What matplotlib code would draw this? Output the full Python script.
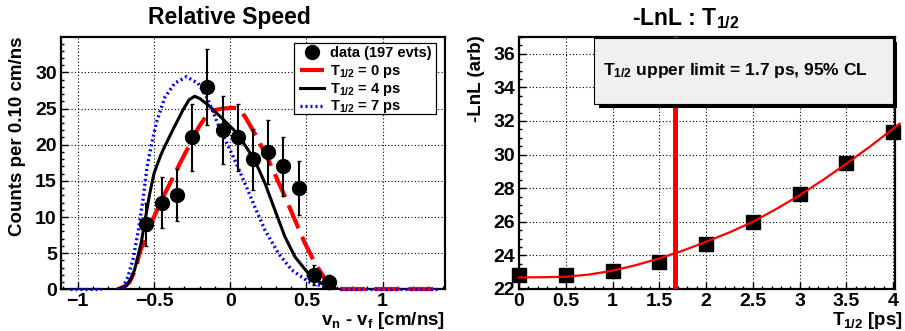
import numpy as np
import matplotlib
matplotlib.use("Agg")
import matplotlib.pyplot as plt
from matplotlib.patches import Rectangle
from matplotlib.lines import Line2D
from matplotlib.ticker import MultipleLocator

plt.rcParams['font.family'] = ['Liberation Sans', 'DejaVu Sans']
plt.rcParams['font.weight'] = 'bold'
plt.rcParams['mathtext.fontset'] = 'custom'
plt.rcParams['mathtext.rm'] = 'Liberation Sans:bold'
plt.rcParams['mathtext.bf'] = 'Liberation Sans:bold'
plt.rcParams['mathtext.it'] = 'Liberation Sans:bold'
plt.rcParams['mathtext.default'] = 'rm'

# ---- left panel: relative speed histogram ----
bin_x = [-0.55, -0.45, -0.35, -0.25, -0.15, -0.05, 0.05, 0.15, 0.25, 0.35, 0.45, 0.55, 0.65]
counts = [9, 12, 13, 21, 28, 22, 21, 18, 19, 17, 14, 2, 1]
count_err = [3.0, 3.5, 3.6, 4.6, 5.3, 4.7, 4.6, 4.2, 4.4, 4.1, 3.7, 1.4, 1.0]

t0_x = [-0.74, -0.70, -0.66, -0.62, -0.595, -0.55, -0.50, -0.44, -0.386, -0.33, -0.266, -0.21,
        -0.15, -0.10, -0.05, 0.03, 0.06, 0.10, 0.16, 0.23, 0.29, 0.36, 0.425, 0.49, 0.557, 0.62, 0.69, 0.72]
t0_y = [0, 0.3, 1.0, 2.8, 5.0, 7.5, 10.0, 12.8, 15.0, 17.4, 20.0, 22.3,
        24.2, 24.8, 25.0, 25.1, 24.9, 23.8, 21.6, 18.8, 16.1, 12.8, 9.6, 6.4, 3.6, 1.5, 0.4, 0.0]

t4_x = [-0.74, -0.70, -0.68, -0.65, -0.627, -0.60, -0.584, -0.562, -0.53, -0.50, -0.46, -0.44,
        -0.375, -0.31, -0.27, -0.233, -0.20, -0.145, -0.06, 0.05, 0.074, 0.16, 0.228, 0.293,
        0.359, 0.425, 0.513, 0.60, 0.688, 0.70]
t4_y = [0, 0.3, 0.5, 1.5, 2.7, 5.0, 6.4, 9.1, 13.0, 16.0, 18.3, 19.3,
        22.1, 24.8, 26.2, 26.7, 26.4, 25.5, 23.8, 21.5, 20.7, 17.9, 14.7, 11.0,
        7.3, 4.5, 2.2, 0.8, 0.1, 0.0]

t7_x = [-0.74, -0.70, -0.671, -0.638, -0.605, -0.572, -0.545, -0.518, -0.485, -0.43, -0.364,
        -0.287, -0.21, -0.145, -0.079, -0.013, 0.03, 0.096, 0.162, 0.228, 0.316, 0.403,
        0.513, 0.62, 0.70]
t7_y = [0, 0.4, 1.7, 4.1, 7.8, 12.4, 17.0, 19.8, 23.0, 26.5, 28.5,
        29.4, 28.5, 26.2, 22.8, 19.8, 17.9, 14.7, 11.4, 8.2, 5.0, 2.7,
        1.05, 0.3, 0.0]

tail_left_x = [-1.05, -0.85]
tail_right_x = [0.72, 1.36]
tail_y = [0, 0]

# ---- right panel: -LnL scan ----
thalf = [0, 0.5, 1, 1.5, 2, 2.5, 3, 3.5, 4]
nll = [22.83, 22.83, 23.09, 23.62, 24.65, 26.0, 27.68, 29.52, 31.34]
fit_x = [0, 0.25, 0.5, 0.75, 1, 1.25, 1.5, 1.75, 2, 2.25, 2.5, 2.75, 3, 3.25, 3.5, 3.75, 4, 4.07]
fit_y = [22.69, 22.70, 22.73, 22.86, 23.09, 23.42, 23.82, 24.28, 24.81, 25.37, 26.0, 26.76,
         27.58, 28.49, 29.46, 30.47, 31.54, 31.84]
limit = 1.67

W, H = 905, 331
fig = plt.figure(figsize=(W / 100, H / 100), dpi=100)


def fx(px):
    return px / W


def fy(py):
    return 1 - py / H


def style_axes(ax):
    for s in ax.spines.values():
        s.set_linewidth(1.6)
    ax.tick_params(which='both', direction='in', top=False, right=False, labelsize=14, pad=3)
    ax.tick_params(which='major', length=5, width=1)
    ax.tick_params(which='minor', length=2.5, width=1)
    ax.grid(True, which='major', color='black', linestyle=(0, (1, 2)), linewidth=0.8)
    for lab in ax.get_xticklabels() + ax.get_yticklabels():
        lab.set_fontweight('bold')


ax1 = fig.add_axes([fx(61), fy(289.3), fx(384), 252.3 / H])
ax1.set_xlim(-1.11, 1.41)
ax1.set_ylim(0, 34.9)
ax1.xaxis.set_major_locator(MultipleLocator(0.5))
ax1.xaxis.set_minor_locator(MultipleLocator(0.1))
ax1.yaxis.set_major_locator(MultipleLocator(5))
ax1.yaxis.set_minor_locator(MultipleLocator(1))
ax1.set_xticks([-1, -0.5, 0, 0.5, 1])
ax1.set_xticklabels(['\u22121', '\u22120.5', '0', '0.5', '1'])
style_axes(ax1)

red_dash = dict(color='#ff0000', lw=3.0, linestyle=(0, (6, 2.2)))
blue_dot = dict(color='#0000ff', lw=2.4, linestyle=(0, (0.6, 0.9)))
ax1.plot(t0_x, t0_y, zorder=4, **red_dash)
ax1.plot(t4_x, t4_y, color='black', lw=2.2, zorder=4)
ax1.plot(t7_x, t7_y, zorder=4, **blue_dot)
ax1.plot(tail_right_x, tail_y, zorder=5, clip_on=False, **red_dash)
ax1.plot(tail_right_x, tail_y, zorder=6, clip_on=False, **blue_dot)
ax1.plot(tail_left_x, tail_y, zorder=6, clip_on=False, **blue_dot)
ax1.errorbar(bin_x, counts, yerr=count_err, fmt='o', color='black', ms=10,
             elinewidth=1.5, capsize=1.5, zorder=7, clip_on=False)

# legend (drawn by hand, ROOT style)
leg_box = Rectangle((fx(294), fy(114)), fx(436) - fx(294), fy(43) - fy(114),
                    transform=fig.transFigure, facecolor='white', edgecolor='black', lw=0.9, zorder=10)
fig.add_artist(leg_box)
fig.add_artist(Line2D([fx(312)], [fy(51.7)], marker='o', ms=10, color='black',
                      transform=fig.transFigure, zorder=11))
fig.add_artist(Line2D([fx(300), fx(324)], [fy(70), fy(70)], transform=fig.transFigure,
                      zorder=11, **red_dash))
fig.add_artist(Line2D([fx(300), fx(324)], [fy(87.7), fy(87.7)], color='black', lw=2.2,
                      transform=fig.transFigure, zorder=11))
fig.add_artist(Line2D([fx(300), fx(324)], [fy(106), fy(106)], transform=fig.transFigure,
                      zorder=11, **blue_dot))
leg_labels = ['data (197 evts)', r'T$_{1/2}$ = 0 ps', r'T$_{1/2}$ = 4 ps', r'T$_{1/2}$ = 7 ps']
leg_base = [57.3, 75, 92.7, 110.4]
for lab, b in zip(leg_labels, leg_base):
    fig.text(fx(330), fy(b), lab, fontsize=10.5, fontweight='bold', va='baseline', ha='left', zorder=12)

fig.text(fx(229.5), fy(24), 'Relative Speed', fontsize=16.5, fontweight='bold', ha='center', va='baseline')
fig.text(fx(17), fy(37), 'Counts per 0.10 cm/ns', fontsize=13.5, fontweight='bold',
         rotation=90, ha='center', va='top')
fig.text(fx(445), fy(325), r'v$_n$ - v$_f$ [cm/ns]', fontsize=13.5, fontweight='bold',
         ha='right', va='baseline')

# ---- right panel ----
ax2 = fig.add_axes([fx(519), fy(289), fx(376), 252 / H])
ax2.set_xlim(0, 4.02)
ax2.set_ylim(22, 37)
ax2.xaxis.set_major_locator(MultipleLocator(0.5))
ax2.xaxis.set_minor_locator(MultipleLocator(0.1))
ax2.yaxis.set_major_locator(MultipleLocator(2))
ax2.yaxis.set_minor_locator(MultipleLocator(0.5))
ax2.set_xticks(thalf)
ax2.set_xticklabels(['0', '0.5', '1', '1.5', '2', '2.5', '3', '3.5', '4'])
style_axes(ax2)

ax2.axvline(limit, color='#ff0000', lw=3.6, zorder=3)
ax2.plot(fit_x, fit_y, color='#ff0000', lw=1.6, zorder=5, clip_on=False)
ax2.plot(thalf, nll, 's', color='black', ms=10, zorder=4, clip_on=False)

shadow = Rectangle((fx(598.5), fy(108)), fx(897) - fx(598.5), fy(42) - fy(108),
                   transform=fig.transFigure, facecolor='black', edgecolor='none', zorder=9)
box = Rectangle((fx(594), fy(104)), fx(893) - fx(594), fy(38) - fy(104),
                transform=fig.transFigure, facecolor='#f0f0f0', edgecolor='black', lw=0.8, zorder=10)
fig.add_artist(shadow)
fig.add_artist(box)
fig.text(fx(603), fy(75), r'T$_{1/2}$ upper limit = 1.7 ps, 95% CL', fontsize=12.5,
         fontweight='bold', ha='left', va='baseline', zorder=12)

fig.text(fx(686), fy(25), r'-LnL : T$_{1/2}$', fontsize=16.5, fontweight='bold', ha='center', va='baseline')
fig.text(fx(476.7), fy(35), '-LnL (arb)', fontsize=13.5, fontweight='bold',
         rotation=90, ha='center', va='top')
fig.text(fx(903), fy(325), r'T$_{1/2}$ [ps]', fontsize=13.5, fontweight='bold',
         ha='right', va='baseline')

fig.savefig('out.png', dpi=100)
